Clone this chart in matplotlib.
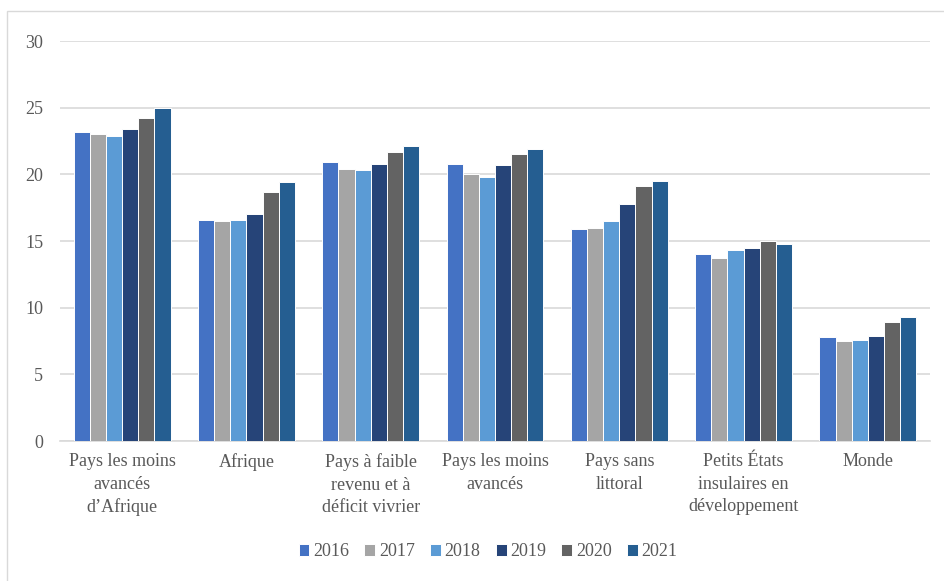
import numpy as np
import matplotlib.pyplot as plt
from matplotlib.patches import Rectangle

categories = [
    "Pays les moins\navancés\nd’Afrique",
    "Afrique",
    "Pays à faible\nrevenu et à\ndéficit vivrier",
    "Pays les moins\navancés",
    "Pays sans\nlittoral",
    "Petits États\ninsulaires en\ndéveloppement",
    "Monde",
]
years = ["2016", "2017", "2018", "2019", "2020", "2021"]

v2016 = [23.2, 16.6, 20.9, 20.8, 15.9, 14.0, 7.8]
v2017 = [23.0, 16.5, 20.4, 20.0, 16.0, 13.7, 7.5]
v2018 = [22.9, 16.6, 20.3, 19.8, 16.5, 14.3, 7.6]
v2019 = [23.4, 17.0, 20.8, 20.7, 17.8, 14.5, 7.9]
v2020 = [24.2, 18.7, 21.7, 21.5, 19.1, 15.0, 8.9]
v2021 = [25.0, 19.4, 22.1, 21.9, 19.5, 14.8, 9.3]
series = [v2016, v2017, v2018, v2019, v2020, v2021]

colors = ["#4472C4", "#A5A5A5", "#5B9BD5", "#264478", "#636363", "#255E91"]

plt.rcParams["font.family"] = ["Liberation Serif", "DejaVu Serif"]
text_col = "#595959"
grid_col = "#D9D9D9"
fs = 13

W, H = 944, 581
fig = plt.figure(figsize=(W / 100, H / 100), dpi=100)
ax = fig.add_axes([60 / W, (H - 441) / H, 870 / W, 400 / H])

# cadre gris du graphique
fig.patches.append(Rectangle((7 / W, -0.1), 1.2, 1.1 - 11 / H, transform=fig.transFigure,
                             fill=False, edgecolor=grid_col, linewidth=1.0))

x = np.arange(len(categories))
bw = 0.13
for i, (vals, yr) in enumerate(zip(series, years)):
    ax.bar(x + (i - 2.5) * bw, vals, width=bw, color=colors[i], edgecolor="white",
           linewidth=0.7, label=yr, zorder=3)

ax.set_xlim(-0.5, len(categories) - 0.5)
ax.set_ylim(0, 30)
ax.set_yticks(range(0, 31, 5))
ax.yaxis.grid(True, color=grid_col, linewidth=1.2)
ax.set_axisbelow(True)
for s in ["top", "right", "left"]:
    ax.spines[s].set_visible(False)
ax.spines["bottom"].set_color(grid_col)
ax.spines["bottom"].set_linewidth(1.2)

ax.set_xticks(x)
ax.set_xticklabels(categories, fontsize=fs, color=text_col, linespacing=1.4)
ax.tick_params(axis="x", length=0, pad=9)
ax.tick_params(axis="y", length=0, pad=12, labelsize=fs, labelcolor=text_col)

fig.legend(loc="center", bbox_to_anchor=(488 / W, 1 - 552 / H), ncol=6, frameon=False,
           fontsize=fs, labelcolor=text_col, handlelength=0.6, handleheight=0.6,
           handletextpad=0.2, columnspacing=0.85, borderpad=0)

fig.savefig("out.png", dpi=100)
